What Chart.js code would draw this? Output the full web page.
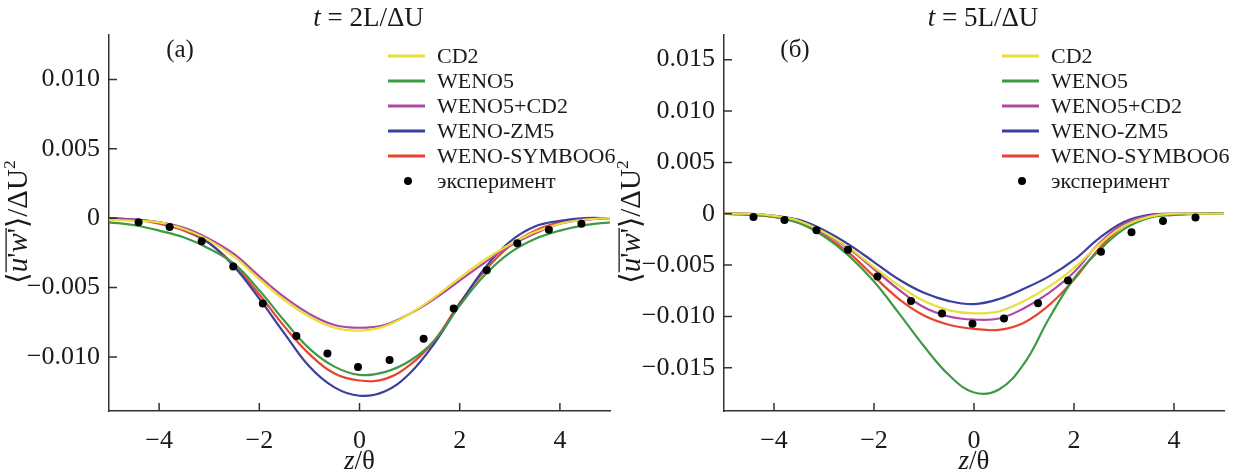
<!DOCTYPE html>
<html lang="ru">
<head>
<meta charset="utf-8">
<title>Профили напряжения Рейнольдса</title>
<script src="https://cdn.jsdelivr.net/npm/chart.js@4.4.0/dist/chart.umd.min.js"></script>
<style>
  html, body { margin: 0; padding: 0; background: #fff; }
  #wrap { position: relative; width: 1242px; height: 474px; }
  canvas { position: absolute; top: 0; }
  #chart-a { left: 0; }
  #chart-b { left: 612px; }
</style>
</head>
<body>
<div id="wrap">
  <canvas id="chart-a" width="621" height="474"></canvas>
  <canvas id="chart-b" width="630" height="474"></canvas>
</div>
<script>
// Сетка по z/θ для расчётных кривых
const zGrid = [-5, -4.5, -4, -3.5, -3, -2.5, -2, -1.5, -1, -0.5, 0, 0.5, 1, 1.5, 2, 2.5, 3, 3.5, 4, 4.5, 5];
// Точки эксперимента
const zExp = [-4.41, -3.79, -3.15, -2.52, -1.93, -1.26, -0.64, -0.03, 0.60, 1.28, 1.88, 2.54, 3.15, 3.78, 4.43];

// Подписи
const seriesNames = ['CD2', 'WENO5', 'WENO5+CD2', 'WENO-ZM5', 'WENO-SYMBOO6'];
const expName = 'эксперимент';
const xTicks = [-4, -2, 0, 2, 4];
const yTicksA = [-0.010, -0.005, 0, 0.005, 0.010];
const yTicksB = [-0.015, -0.010, -0.005, 0, 0.005, 0.010, 0.015];

// (а) t = 2L/ΔU
const cd2A    = [-0.0001, -0.0002, -0.0003, -0.0008, -0.0016, -0.0028, -0.0044, -0.0059, -0.0071, -0.0079, -0.0081, -0.0078, -0.0069, -0.0057, -0.0043, -0.0030, -0.0019, -0.0010, -0.0004, -0.0001, 0];
const weno5A  = [-0.0003, -0.0005, -0.0009, -0.0014, -0.0022, -0.0033, -0.0052, -0.0074, -0.0094, -0.0107, -0.0113, -0.0111, -0.0103, -0.0088, -0.0063, -0.0041, -0.0025, -0.0015, -0.0009, -0.0005, -0.0003];
const wenoCdA = [-0.0001, -0.0001, -0.0003, -0.0007, -0.0015, -0.0026, -0.0042, -0.0057, -0.0069, -0.0077, -0.0079, -0.0077, -0.0069, -0.0058, -0.0045, -0.0032, -0.0020, -0.0011, -0.0004, -0.0001, 0];
const zm5A    = [0, -0.0001, -0.0003, -0.0008, -0.0018, -0.0035, -0.0058, -0.0083, -0.0107, -0.0122, -0.0128, -0.0125, -0.0112, -0.0090, -0.0062, -0.0036, -0.0017, -0.0006, -0.0002, 0, 0];
const symA    = [0, -0.0001, -0.0004, -0.0009, -0.0018, -0.0034, -0.0055, -0.0078, -0.0098, -0.0112, -0.0117, -0.0116, -0.0106, -0.0088, -0.0061, -0.0038, -0.0020, -0.0009, -0.0003, -0.0001, 0];
const expA    = [-0.0003, -0.00063, -0.00167, -0.00349, -0.00615, -0.0085, -0.00975, -0.01073, -0.01023, -0.00869, -0.00651, -0.00375, -0.00181, -0.00083, -0.0004];

// (б) t = 5L/ΔU
const cd2B    = [0, 0, -0.0002, -0.0007, -0.0018, -0.0033, -0.0052, -0.0070, -0.0085, -0.0094, -0.0097, -0.0095, -0.0085, -0.0071, -0.0053, -0.0030, -0.0012, -0.0003, 0, 0, 0];
const weno5B  = [0, -0.0001, -0.0003, -0.0009, -0.0022, -0.0041, -0.0066, -0.0097, -0.0129, -0.0157, -0.0174, -0.0171, -0.0146, -0.0102, -0.0063, -0.0036, -0.0015, -0.0004, -0.0001, 0, 0];
const wenoCdB = [0, 0, -0.0002, -0.0007, -0.0019, -0.0034, -0.0054, -0.0074, -0.0091, -0.0100, -0.0103, -0.0102, -0.0092, -0.0077, -0.0057, -0.0029, -0.0010, -0.0002, 0, 0, 0];
const zm5B    = [0, 0, -0.0002, -0.0006, -0.0016, -0.0030, -0.0047, -0.0064, -0.0077, -0.0085, -0.0088, -0.0083, -0.0073, -0.0061, -0.0045, -0.0024, -0.0008, -0.0001, 0, 0, 0];
const symB    = [0, -0.0001, -0.0003, -0.0009, -0.0021, -0.0038, -0.0061, -0.0083, -0.0099, -0.0108, -0.0112, -0.0113, -0.0106, -0.0089, -0.0064, -0.0034, -0.0012, -0.0003, -0.0001, 0, 0];
const expB    = [-0.00032, -0.0006, -0.0016, -0.0035, -0.0061, -0.0085, -0.0097, -0.0107, -0.0102, -0.0087, -0.0065, -0.0037, -0.0018, -0.0007, -0.00036];

const colors = ['#e8e03a', '#3f9a45', '#b048a3', '#3b3f9e', '#e8442e'];
const SERIF = "'Liberation Serif', 'DejaVu Serif', serif";
const INK = '#1a1a1a';
const AXIS = '#333';

// Текст из кусков (курсив, верхний индекс)
function richText(ctx, parts, x, y, size, align) {
  const fontOf = p => (p.it ? 'italic ' : '') + (p.sup ? size * 0.6 : size) + 'px ' + SERIF;
  let w = 0;
  parts.forEach(p => { ctx.font = fontOf(p); p.w = ctx.measureText(p.t).width + (p.gap || 0); w += p.w; });
  let cur = align === 'center' ? x - w / 2 : x;
  parts.forEach(p => {
    ctx.font = fontOf(p);
    ctx.fillText(p.t, cur, p.sup ? y - size * 0.42 : y);
    p.x0 = cur;
    cur += p.w;
  });
  return parts;
}

const decoPlugin = {
  id: 'deco',
  afterDraw(chart, args, o) {
    const ctx = chart.ctx;
    const a = chart.chartArea;
    const xs = chart.scales.x, ys = chart.scales.y;
    ctx.save();

    // засечки внутрь
    ctx.strokeStyle = AXIS;
    ctx.lineWidth = 1.5;
    ctx.beginPath();
    xTicks.forEach(v => { const px = xs.getPixelForValue(v); ctx.moveTo(px, a.bottom); ctx.lineTo(px, a.bottom - 8); });
    o.yTicks.forEach(v => { const py = ys.getPixelForValue(v); ctx.moveTo(a.left, py); ctx.lineTo(a.left + 8, py); });
    ctx.stroke();

    ctx.fillStyle = INK;
    ctx.textAlign = 'left';
    ctx.textBaseline = 'alphabetic';
    const cx = (a.left + a.right) / 2;

    // заголовок
    richText(ctx, [{ t: 't', it: true }, { t: ' = ' + o.title }], cx + 9, 26, 27, 'center');
    // метка панели
    richText(ctx, [{ t: o.panel }], a.left + 71, 57, 25, 'center');
    // подпись оси x
    richText(ctx, [{ t: 'z', it: true }, { t: '/θ' }], cx, 469, 27, 'center');

    // подпись оси y (повёрнутая)
    ctx.save();
    ctx.translate(o.yLabelX, 222);
    ctx.rotate(-Math.PI / 2);
    const sz = 29;
    const p = richText(ctx, [
      { t: '⟨' }, { t: 'u', it: true }, { t: "'" }, { t: 'w', it: true }, { t: "'" },
      { t: '⟩' }, { t: '/ΔU' }, { t: '2', sup: true }
    ], 0, 0, sz, 'center');
    ctx.strokeStyle = INK;
    ctx.lineWidth = 1.3;
    ctx.beginPath();
    ctx.moveTo(p[1].x0, -sz * 0.72);
    ctx.lineTo(p[4].x0 + p[4].w, -sz * 0.72);
    ctx.stroke();
    ctx.restore();

    // легенда
    const rows = [56, 81, 106, 131, 156, 181];
    chart.data.datasets.forEach((ds, i) => {
      const y = rows[i];
      if (ds.showLine === false) {
        ctx.fillStyle = '#000';
        ctx.beginPath();
        ctx.arc(a.right - 202, y, 4, 0, Math.PI * 2);
        ctx.fill();
      } else {
        ctx.strokeStyle = ds.borderColor;
        ctx.lineWidth = 3;
        ctx.beginPath();
        ctx.moveTo(a.right - 222, y);
        ctx.lineTo(a.right - 185, y);
        ctx.stroke();
      }
      ctx.fillStyle = INK;
      richText(ctx, [{ t: ds.label }], a.right - 173, y + 7, 22, 'left');
    });
    ctx.restore();
  }
};

function fmtY(v) {
  if (v === 0) return '0';
  return (v < 0 ? '\u2212' : '') + Math.abs(v).toFixed(3);
}
function fmtX(v) {
  return (v < 0 ? '\u2212' : '') + Math.abs(v);
}

function criarPainel(id, cfg) {
  const curves = [cfg.cd2, cfg.weno5, cfg.wenoCd, cfg.zm5, cfg.sym];
  const datasets = curves.map((arr, i) => ({
    label: seriesNames[i],
    data: zGrid.map((z, k) => ({ x: z, y: arr[k] })),
    borderColor: colors[i],
    borderWidth: 2.2,
    pointRadius: 0,
    tension: 0.4,
    order: i + 1
  }));
  datasets.push({
    label: expName,
    data: zExp.map((z, k) => ({ x: z, y: cfg.exp[k] })),
    showLine: false,
    pointRadius: 4,
    pointBackgroundColor: '#000',
    pointBorderWidth: 0,
    order: 0
  });

  return new Chart(document.getElementById(id), {
    type: 'line',
    data: { datasets: datasets },
    options: {
      responsive: false,
      animation: false,
      layout: { padding: { top: 35, right: cfg.padRight, left: 0, bottom: 0 } },
      plugins: {
        legend: { display: false },
        tooltip: { enabled: false },
        deco: { title: cfg.title, panel: cfg.panel, yTicks: cfg.yTicks, yLabelX: cfg.yLabelX }
      },
      scales: {
        x: {
          type: 'linear',
          min: -5, max: 5,
          afterBuildTicks: s => { s.ticks = xTicks.map(v => ({ value: v })); },
          afterFit: s => { s.height = 63; },
          grid: { drawOnChartArea: false, drawTicks: false },
          border: { color: AXIS, width: 1.5 },
          ticks: { font: { family: SERIF, size: 26 }, color: INK, padding: 15, callback: fmtX }
        },
        y: {
          type: 'linear',
          min: cfg.yMin, max: cfg.yMax,
          afterBuildTicks: s => { s.ticks = cfg.yTicks.map(v => ({ value: v })); },
          afterFit: s => { s.width = cfg.axisLeft; },
          grid: { drawOnChartArea: false, drawTicks: false },
          border: { color: AXIS, width: 1.5 },
          ticks: { font: { family: SERIF, size: 26 }, color: INK, padding: 9, callback: fmtY }
        }
      }
    },
    plugins: [decoPlugin]
  });
}

criarPainel('chart-a', {
  cd2: cd2A, weno5: weno5A, wenoCd: wenoCdA, zm5: zm5A, sym: symA, exp: expA,
  yMin: -0.0139, yMax: 0.0132, yTicks: yTicksA,
  title: '2L/ΔU', panel: '(а)', axisLeft: 109, padRight: 11, yLabelX: 27
});

criarPainel('chart-b', {
  cd2: cd2B, weno5: weno5B, wenoCd: wenoCdB, zm5: zm5B, sym: symB, exp: expB,
  yMin: -0.0192, yMax: 0.0174, yTicks: yTicksB,
  title: '5L/ΔU', panel: '(б)', axisLeft: 112, padRight: 18, yLabelX: 28
});
</script>
</body>
</html>
